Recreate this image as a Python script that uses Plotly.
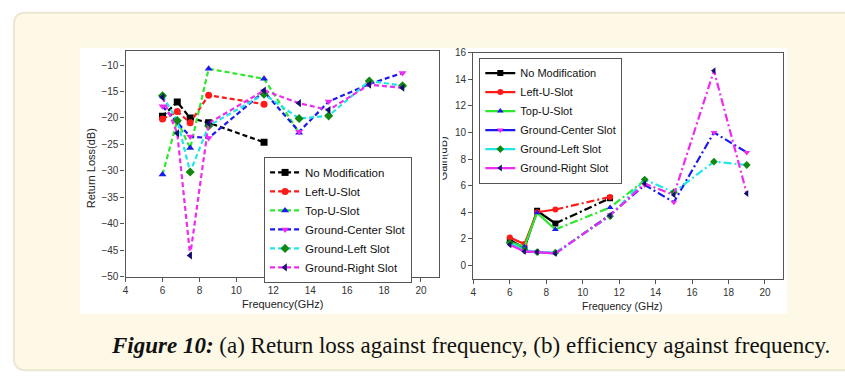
import plotly.graph_objects as go

W, H = 845, 381

# ---------------- data ----------------
freq = [6, 6.8, 7.5, 8.5, 11.5, 13.4, 15, 17.2, 19]
series_names = ["No Modification", "Left-U-Slot", "Top-U-Slot",
                "Ground-Center Slot", "Ground-Left Slot", "Ground-Right Slot"]

# (a) return loss (dB)
rl_no_mod = [-19.7, -17.0, -20.0, -20.9, -24.6]
rl_left_u = [-20.2, -18.8, -20.9, -15.7, -17.4]
rl_top_u = [-30.7, -20.5, -25.7, -10.7, -12.6, -22.8]
rl_gnd_center = [-17.8, -20.8, -23.5, -23.8, -15.0, -22.6, -16.9, -13.6, -11.5]
rl_gnd_left = [-15.8, -20.5, -30.2, -21.5, -15.5, -20.1, -19.6, -13.0, -13.9]
rl_gnd_right = [-16.1, -22.9, -46.0, -21.0, -14.8, -17.2, -18.5, -13.7, -14.3]

# (b) gain / efficiency
g_no_mod = [1.9, 1.3, 4.1, 3.15, 5.05]
g_left_u = [2.1, 1.6, 4.0, 4.2, 5.15]
g_top_u = [1.75, 1.4, 3.95, 2.7, 4.35, 6.4]
g_gnd_center = [1.65, 1.05, 1.0, 0.9, 3.8, 6.05, 4.75, 10.0, 8.5]
g_gnd_left = [1.7, 1.15, 1.0, 0.95, 3.7, 6.45, 5.5, 7.8, 7.55]
g_gnd_right = [1.55, 1.05, 1.0, 0.9, 3.75, 6.15, 5.3, 14.65, 5.4]

x_ticks = [4, 6, 8, 10, 12, 14, 16, 18, 20]
rl_ticks = [-10, -15, -20, -25, -30, -35, -40, -45, -50]
g_ticks = [0, 2, 4, 6, 8, 10, 12, 14, 16]

# ---------------- styles ----------------
line_colors = ["#000000", "#ff1a1a", "#2ee82e", "#1a1aee", "#22e5e5", "#f02af0"]
marker_colors = ["#000000", "#ff1a1a", "#1a1aee", "#f02af0", "#118811", "#101070"]
symbols = ["square", "circle", "triangle-up", "triangle-down", "diamond", "triangle-left"]

rl_data = [rl_no_mod, rl_left_u, rl_top_u, rl_gnd_center, rl_gnd_left, rl_gnd_right]
g_data = [g_no_mod, g_left_u, g_top_u, g_gnd_center, g_gnd_left, g_gnd_right]

FONT = "Liberation Sans, Arial, sans-serif"

def px(x):
    return x / W

def py(y):
    return 1 - y / H

fig = go.Figure()

# ---- left: return loss ----
for i, name in enumerate(series_names):
    ys = rl_data[i]
    fig.add_trace(go.Scatter(
        x=freq[:len(ys)], y=ys, name=name, mode="lines+markers",
        line=dict(color=line_colors[i], width=2.2, dash="5px,3px"),
        marker=dict(symbol=symbols[i], color=marker_colors[i], size=7),
        xaxis="x", yaxis="y", legend="legend"))

# ---- right: gain ----
for i, name in enumerate(series_names):
    ys = g_data[i]
    xs = freq[:len(ys)]
    fig.add_trace(go.Scatter(
        x=xs[3:], y=ys[3:], mode="lines", showlegend=False, hoverinfo="skip",
        line=dict(color=line_colors[i], width=2.2, dash="8px,3px,2px,3px"),
        xaxis="x2", yaxis="y2"))
    fig.add_trace(go.Scatter(
        x=xs[:4], y=ys[:4], name=name, mode="lines+markers",
        line=dict(color=line_colors[i], width=2.2),
        marker=dict(symbol=symbols[i], color=marker_colors[i], size=6),
        xaxis="x2", yaxis="y2", legend="legend2"))
    fig.add_trace(go.Scatter(
        x=xs[4:], y=ys[4:], mode="markers", showlegend=False,
        marker=dict(symbol=symbols[i], color=marker_colors[i], size=6),
        xaxis="x2", yaxis="y2"))

axis_common = dict(showline=True, linecolor="#555555", linewidth=1.3, mirror=True,
                   ticks="outside", ticklen=4, tickcolor="#555555", showgrid=False,
                   zeroline=False, tickfont=dict(family=FONT, size=10, color="#333333"))

shapes = []
# outer cream rounded box
x0, y0, x1, y1 = px(11), py(8), px(870), py(375)
rx, ry = 12 / W, 12 / H
path = (f"M {x0+rx},{y0} L {x1},{y0} L {x1},{y1} L {x0+rx},{y1} "
        f"Q {x0},{y1} {x0},{y1+ry} L {x0},{y0-ry} Q {x0},{y0} {x0+rx},{y0} Z")
shapes.append(dict(type="path", xref="paper", yref="paper", path=path,
                   fillcolor="#fdf9e6", line=dict(color="#ece7d2", width=2), layer="below"))
# white figure panel
shapes.append(dict(type="rect", xref="paper", yref="paper", x0=px(77), x1=px(787),
                   y0=py(317), y1=py(44), fillcolor="#ffffff", line=dict(width=0), layer="below"))

def ann(text, x, y, size, **kw):
    d = dict(text=text, x=px(x), y=py(y), xref="paper", yref="paper",
             xanchor="center", yanchor="middle", showarrow=False,
             font=dict(family=kw.pop("family", FONT), size=size,
                       color=kw.pop("color", "#222222")))
    d.update(kw)
    return d

annotations = [
    ann("Frequency(GHz)", 280, 307, 11),
    ann("Frequency (GHz)", 622, 309, 10.5),
    ann("Return Loss(dB)", 88, 168, 11, textangle=-90),
    ann("Gain(dB)", 444, 157, 11, textangle=-90, height=6, valign="bottom"),
    ann("<b><i>Figure 10:</i></b> (a) Return loss against frequency, (b) efficiency against frequency.",
        469, 350, 23, family="Liberation Serif, serif", color="#111111"),
]

fig.update_layout(
    width=W, height=H, margin=dict(l=0, r=0, t=0, b=0),
    paper_bgcolor="#ffffff", plot_bgcolor="#ffffff",
    shapes=shapes, annotations=annotations,
    xaxis=dict(domain=[px(123), px(438)], range=[4, 21], tickvals=x_ticks,
               anchor="y", **axis_common),
    yaxis=dict(domain=[py(279), py(47)], range=[-50, -7.3], tickvals=rl_ticks,
               anchor="x", **axis_common),
    xaxis2=dict(domain=[px(472), px(783)], range=[4, 21], tickvals=x_ticks,
                anchor="y2", **axis_common),
    yaxis2=dict(domain=[py(281), py(49)], range=[-1, 16], tickvals=g_ticks,
                anchor="x2", **axis_common),
    legend=dict(x=px(262), y=py(156), xanchor="left", yanchor="top",
                bgcolor="#ffffff", bordercolor="#555555", borderwidth=1,
                font=dict(family=FONT, size=11.5, color="#111111"),
                tracegroupgap=0, itemwidth=30),
    legend2=dict(x=px(478), y=py(54), xanchor="left", yanchor="top",
                 bgcolor="#ffffff", bordercolor="#555555", borderwidth=1,
                 font=dict(family=FONT, size=11, color="#111111"),
                 tracegroupgap=0, itemwidth=30),
    showlegend=True,
)

fig.write_html("out.html")
